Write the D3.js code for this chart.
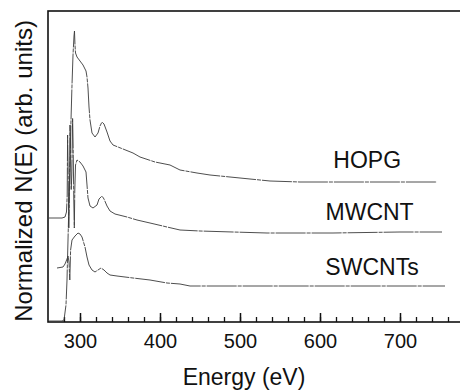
<!DOCTYPE html>
<html>
<head>
<meta charset="utf-8">
<script src="https://cdn.jsdelivr.net/npm/d3@7"></script>
<style>
  body { margin: 0; background: #fff; }
</style>
</head>
<body>
<div id="chart"></div>
<script>
// [energy (eV), N(E) arb. units]
var hopg = [
    [261.25, 1], [277.5, 1], [280, 2], [282.5, 17], [283.75, 42], [285, 82],
    [286.25, 122], [287.5, 162], [288.75, 202], [290, 237], [291.25, 267],
    [292.5, 286], [293.1, 291], [293.75, 277], [294.4, 269], [296.25, 265],
    [300, 261], [303.75, 257], [307.5, 251], [308.75, 245], [310, 234],
    [311.25, 215], [312.5, 202], [315, 189], [318.75, 185], [322.5, 189],
    [325, 196], [327.5, 200], [330, 198], [333.75, 190], [337.5, 181],
    [341.25, 177], [347.5, 175], [353.75, 173], [366.25, 169], [375, 165],
    [393.75, 160], [412.5, 157], [425, 152], [446.25, 149], [462.5, 147],
    [487.5, 145], [512.5, 143], [537.5, 141], [575, 140], [625, 140],
    [675, 140], [746.25, 140]
];

var mwcnt = [
    [261.25, 104], [277.5, 104], [281.25, 105], [283.1, 110], [284, 127],
    [284.5, 187], [285.25, 147], [286, 94], [286.75, 122], [287.5, 197],
    [288.25, 162], [289, 132], [289.75, 147], [290.75, 204], [291.5, 172],
    [292.25, 122], [292.9, 94], [293.5, 132], [294.4, 157], [296.25, 162],
    [300, 160], [303.75, 156], [307.5, 150], [308.75, 137], [310, 124],
    [312.5, 116], [316.25, 114], [321.25, 117], [323.75, 123], [327.5, 126],
    [330, 123], [333.75, 116], [337.5, 111], [343.75, 108], [358.75, 105],
    [371.25, 102], [387.5, 99], [408.75, 95], [425, 92], [450, 91],
    [491.25, 90], [533.75, 89], [616.25, 89], [700, 90], [752.5, 90]
];

var swcnts = [
    [271.25, 54], [278.75, 55], [281.25, 58], [283.75, 63], [285, 66],
    [286.25, 60], [287.25, 42], [288.25, 72], [290, 82], [293.75, 86],
    [297.5, 89], [300, 88], [302.5, 85], [306.25, 75], [308.75, 65],
    [311.25, 57], [315, 52], [318.75, 50], [322.5, 52], [326.25, 54],
    [330, 52], [333.75, 49], [337.5, 47], [346.25, 46], [356.25, 45],
    [366.25, 44], [387.5, 42], [408.75, 39], [425, 38], [437.5, 36],
    [450, 36], [491.25, 36], [575, 36], [658.75, 36], [756.25, 36]
];

var seriesNames = ["HOPG", "MWCNT", "SWCNTs"];
var labelPos = [[659, 154], [662, 102], [665, 47]];   // [energy, level] of each name
var majorTicks = [300, 400, 500, 600, 700];
var minorTicks = d3.range(280, 780, 20);

var font = "'Liberation Sans', Arial, sans-serif";

function draw_spectra() {
    var W = 460, H = 391;
    var svg = d3.select("#chart")
        .append("svg")
        .attr("width", W)
        .attr("height", H);

    var x = d3.scaleLinear()
        .domain([260, 780])
        .range([48, 464]);
    var y = d3.scaleLinear()
        .domain([0, 311])
        .range([322, 11]);

    // frame
    svg.append("rect")
        .attr("x", x(260))
        .attr("y", y(311))
        .attr("width", x(780) - x(260))
        .attr("height", y(0) - y(311))
        .attr("fill", "none")
        .attr("stroke", "#111")
        .attr("stroke-width", 1.6);

    // inside ticks on the energy axis
    svg.append("g")
        .attr("transform", "translate(0," + y(0) + ")")
        .call(d3.axisBottom(x).tickValues(minorTicks).tickSizeInner(-5).tickSizeOuter(0).tickFormat(""))
        .call(function(g) { g.select(".domain").remove(); })
        .selectAll("line").attr("stroke", "#111").attr("stroke-width", 1.3);

    svg.append("g")
        .attr("transform", "translate(0," + y(0) + ")")
        .call(d3.axisBottom(x).tickValues(majorTicks).tickSizeInner(-9).tickSizeOuter(0).tickPadding(12))
        .call(function(g) {
            g.select(".domain").remove();
            g.selectAll("line").attr("stroke", "#111").attr("stroke-width", 1.5);
            g.selectAll("text")
                .attr("fill", "#111")
                .style("font-family", font)
                .style("font-size", "20px");
        });

    var line = d3.line()
        .x(function(d) { return x(d[0]); })
        .y(function(d) { return y(d[1]); });

    svg.selectAll("spectra")
        .data([hopg, mwcnt, swcnts])
        .enter()
        .append("path")
        .attr("d", function(d) { return line(d); })
        .attr("fill", "none")
        .attr("stroke", "#3a3a3a")
        .attr("stroke-width", 0.9)
        .attr("stroke-dasharray", "30,1,4,1");

    svg.selectAll("names")
        .data(seriesNames)
        .enter()
        .append("text")
        .attr("x", function(d, i) { return x(labelPos[i][0]); })
        .attr("y", function(d, i) { return y(labelPos[i][1]); })
        .attr("text-anchor", "middle")
        .attr("fill", "#111")
        .style("font-family", font)
        .style("font-size", "23px")
        .text(function(d) { return d; });

    svg.append("text")
        .attr("x", 244)
        .attr("y", 385)
        .attr("text-anchor", "middle")
        .attr("fill", "#111")
        .style("font-family", font)
        .style("font-size", "23px")
        .text("Energy (eV)");

    svg.append("text")
        .attr("transform", "translate(32," + 171 + ") rotate(-90)")
        .attr("text-anchor", "middle")
        .attr("fill", "#111")
        .style("font-family", font)
        .style("font-size", "24px")
        .style("word-spacing", "1px")
        .text("Normalized N(E) (arb. units)");
}

draw_spectra();
</script>
</body>
</html>
